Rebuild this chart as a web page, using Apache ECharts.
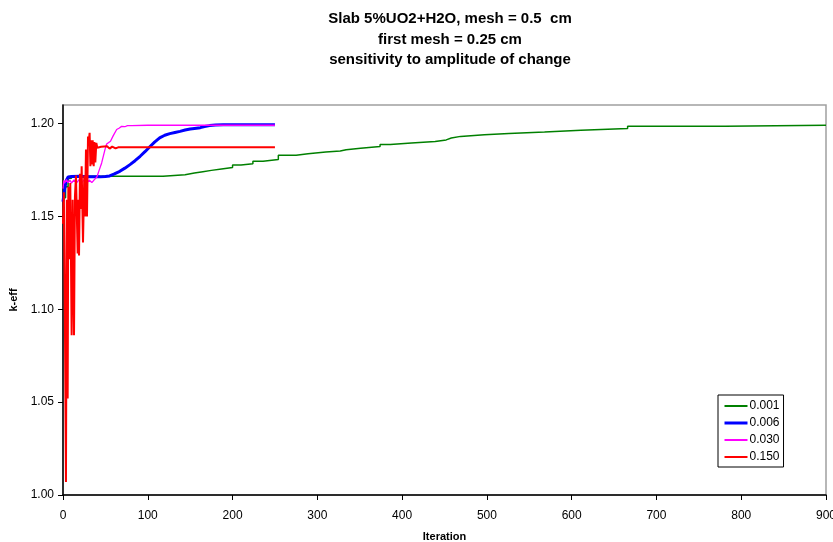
<!DOCTYPE html>
<html>
<head>
<meta charset="utf-8">
<script src="https://cdn.jsdelivr.net/npm/echarts@6/dist/echarts.min.js"></script>
<style>html,body{margin:0;padding:0;background:#fff}#c{width:833px;height:542px}</style>
</head>
<body>
<div id="c"></div>
<script>
var titleLines = ['Slab 5%UO2+H2O, mesh = 0.5  cm', 'first mesh = 0.25 cm', 'sensitivity to amplitude of change'];
var seriesNames = ['0.001', '0.006', '0.030', '0.150'];
var xTicks = [0, 100, 200, 300, 400, 500, 600, 700, 800, 900];
var yTicks = [1.00, 1.05, 1.10, 1.15, 1.20];

// 0.001: stepwise curve, each value holds until the next listed iteration
var s001 = [[0,1.160],[3,1.166],[6,1.1705],[10,1.1716],[118,1.1725],[144,1.1734],[155,1.1741],[165,1.1748],[175,1.1756],[187,1.1764],[200,1.1777],[210,1.1784],[224,1.1797],[236,1.1806],[254,1.1829],[275,1.1838],[289,1.1847],[310,1.1852],[327,1.1859],[334,1.1867],[351,1.1876],[374,1.1887],[386,1.1896],[411,1.1903],[439,1.1912],[452,1.1922],[458,1.1931],[469,1.1940],[497,1.1947],[526,1.1955],[568,1.1964],[611,1.1973],[666,1.1985],[781,1.1991],[900,1.1991]];

var s006 = [[0,1.158],[2,1.165],[4,1.1695],[6,1.1712],[10,1.1715],[20,1.1716],[30,1.1713],[44,1.1713],[50,1.1715],[55,1.1718],[60,1.1728],[67,1.1743],[73,1.1760],[79,1.1779],[85,1.1800],[91,1.1824],[97,1.1850],[103,1.1878],[108,1.1900],[114,1.1923],[120,1.1937],[126,1.1946],[132,1.1952],[138,1.1958],[144,1.1965],[150,1.1971],[155,1.1974],[162,1.1978],[167,1.1984],[173,1.1989],[180,1.1992],[189,1.1994],[200,1.1993],[220,1.1994],[250,1.1993]];

var s030 = [[0,1.165],[1,1.1695],[2,1.1680],[4,1.1698],[6,1.1682],[8,1.1697],[10,1.1680],[13,1.1696],[16,1.1681],[19,1.1698],[22,1.1682],[25,1.1697],[28,1.1680],[31,1.1696],[34,1.1682],[37,1.1698],[40,1.1712],[42,1.1740],[45.6,1.1788],[49.5,1.1860],[51.5,1.1890],[53.5,1.1896],[56,1.1905],[59.3,1.1935],[61,1.1945],[63.3,1.1968],[66,1.1975],[69.2,1.1985],[73,1.1983],[76,1.1989],[81,1.1989],[100,1.1991],[150,1.1991],[200,1.1991],[250,1.1991]];

var s150 = [[0,1.146],[1,1.163],[2,1.111],[3.5,1.007],[4.5,1.159],[5.5,1.052],[6.3,1.166],[7.5,1.127],[8.6,1.168],[10.2,1.086],[11.4,1.159],[13,1.086],[14.1,1.161],[15.3,1.172],[17.3,1.130],[18.1,1.159],[18.9,1.129],[20,1.173],[21.2,1.154],[22,1.177],[23.6,1.136],[25.1,1.172],[25.9,1.150],[27.1,1.186],[28.3,1.150],[29.5,1.193],[30.3,1.190],[31.4,1.195],[32.3,1.177],[33,1.191],[34.2,1.178],[35,1.191],[36.2,1.177],[37,1.190],[38.1,1.179],[39.3,1.1896],[40.5,1.187],[45,1.1875],[52,1.1878],[55,1.1865],[58,1.1876],[62,1.1866],[65,1.1872],[80,1.1872],[150,1.1872],[250,1.1872]];

function toSteps(arr) {
  var out = [];
  for (var i = 0; i < arr.length; i++) {
    if (i > 0) out.push([arr[i][0], arr[i - 1][1]]);
    out.push(arr[i]);
  }
  return out;
}

var chart = echarts.init(document.getElementById('c'), null, {renderer: 'canvas'});
var font = 'Liberation Sans, Arial, sans-serif';
chart.setOption({
  animation: false,
  backgroundColor: '#fff',
  title: {
    text: titleLines.join('\n'),
    left: 445,
    textAlign: 'center',
    top: 4,
    textStyle: {fontFamily: font, fontSize: 15, fontWeight: 'bold', color: '#000', lineHeight: 20.5}
  },
  grid: {left: 63, top: 105, width: 763, height: 390, show: true, borderColor: '#a0a0a0', borderWidth: 1.5, backgroundColor: '#fff', containLabel: false, outerBoundsMode: 'none'},
  legend: {
    orient: 'vertical', left: 718, top: 395,
    data: [
      {name: seriesNames[0]},
      {name: seriesNames[1], lineStyle: {width: 3}},
      {name: seriesNames[2]},
      {name: seriesNames[3]}
    ],
    itemWidth: 23, itemHeight: 14, itemGap: 5,
    padding: [5, 4, 4, 5],
    borderColor: '#000', borderWidth: 1,
    backgroundColor: '#fff',
    itemStyle: {opacity: 0},
    textStyle: {fontFamily: font, fontSize: 12, color: '#000', padding: [0,0,0,-3]}
  },
  xAxis: {
    type: 'value', min: 0, max: 900, interval: 100,
    name: 'Iteration', nameLocation: 'middle', nameGap: 36,
    nameTextStyle: {fontFamily: font, fontSize: 11, fontWeight: 'bold', color: '#000'},
    axisLine: {lineStyle: {color: '#000', width: 1.5}},
    axisTick: {inside: false, length: 5, lineStyle: {color: '#000'}},
    axisLabel: {fontFamily: font, fontSize: 12, color: '#000', margin: 15,
      formatter: function(v){ return xTicks.indexOf(v) >= 0 ? String(v) : ''; }},
    splitLine: {show: false}
  },
  yAxis: {
    type: 'value', min: 1.00, max: 1.21, interval: 0.05,
    name: 'k-eff', nameLocation: 'middle', nameGap: 42, nameRotate: 90,
    nameTextStyle: {fontFamily: font, fontSize: 11, fontWeight: 'bold', color: '#000'},
    axisLine: {show: true, lineStyle: {color: '#000', width: 1.5}},
    axisTick: {show: true, length: 5, lineStyle: {color: '#000'}},
    axisLabel: {fontFamily: font, fontSize: 12, color: '#000', margin: 9, showMaxLabel: false,
      formatter: function(v){
        for (var i = 0; i < yTicks.length; i++) { if (Math.abs(yTicks[i] - v) < 1e-6) return yTicks[i].toFixed(2); }
        return '';
      }},
    splitLine: {show: false}
  },
  series: [
    {name: seriesNames[0], type: 'line', data: toSteps(s001), symbol: 'none', lineStyle: {color: '#008000', width: 1.5}, itemStyle: {color: '#008000'}, z: 2},
    {name: seriesNames[1], type: 'line', data: s006, symbol: 'none', lineStyle: {color: '#0000ff', width: 3}, itemStyle: {color: '#0000ff'}, z: 3},
    {name: seriesNames[2], type: 'line', data: s030, symbol: 'none', lineStyle: {color: '#ff00ff', width: 1.3}, itemStyle: {color: '#ff00ff'}, z: 4},
    {name: seriesNames[3], type: 'line', data: s150, symbol: 'none', lineStyle: {color: '#ff0000', width: 2}, itemStyle: {color: '#ff0000'}, z: 5}
  ]
});
</script>
</body>
</html>
